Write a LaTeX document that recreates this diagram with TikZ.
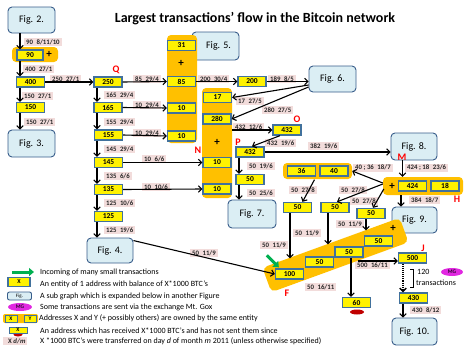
\documentclass[tikz,border=0pt]{standalone}
\usepackage{fontspec}
\setmainfont{Carlito}
\usetikzlibrary{arrows.meta,calc,shapes.geometric}
\definecolor{boxblue}{RGB}{65,113,156}
\definecolor{figblue}{RGB}{56,93,138}
\definecolor{figfill}{RGB}{219,238,244}
\definecolor{grporange}{RGB}{255,192,0}
\definecolor{labpink}{RGB}{242,220,219}
\definecolor{mgcol}{RGB}{225,40,225}
\definecolor{arrgreen}{RGB}{0,176,80}
\definecolor{darkred}{RGB}{192,0,0}
\newcommand{\edgetxt}[2]{#1\hspace{3.5pt}#2\hspace{5pt}}
\begin{document}
\begin{tikzpicture}[x=1pt,y=-1pt,
  ybox/.style={draw=boxblue, line width=1.3pt, fill=yellow, minimum width=28pt, minimum height=10pt, inner sep=0pt, font=\fontsize{7.5}{8}\selectfont\bfseries},
  figbox/.style={draw=figblue, line width=0.9pt, fill=figfill, rounded corners=4pt, inner sep=0pt, font=\fontsize{10}{11}\selectfont},
  grp/.style={fill=grporange, rounded corners=4pt, inner sep=0pt},
  elab/.style={fill=labpink, inner xsep=2pt, inner ysep=1pt, anchor=west, font=\fontsize{6.8}{7.5}\selectfont\bfseries, text=black!85},
  arr/.style={-{Straight Barb[length=3.2pt,width=6.5pt]}, line width=1.1pt},
  redl/.style={text=red, font=\fontsize{10}{10}\selectfont\bfseries, inner sep=0pt},
  plus/.style={font=\fontsize{11}{11}\selectfont\bfseries, inner sep=0pt},
  legtxt/.style={anchor=west, inner sep=0pt, font=\fontsize{8}{9}\selectfont},
  mgell/.style={ellipse, fill=mgcol, inner sep=0pt, font=\fontsize{5.5}{6}\selectfont\bfseries, text=black!80!mgcol},
]
\useasboundingbox (0,0) rectangle (464,346);

% title
\node[font=\fontsize{14}{16}\selectfont\bfseries] (title) at (255,19) {Largest transactions’ flow in the Bitcoin network};

% edge labels
\node[elab] (l1) at (24,42) {\edgetxt{90}{8/11/10}};
\node[elab] (l2) at (23,69) {\edgetxt{400}{27/1}};
\node[elab] (l3) at (22,96) {\edgetxt{150}{27/1}};
\node[elab] (l4) at (24,122) {\edgetxt{150}{27/1}};
\node[elab] (l5) at (50,79) {\edgetxt{250}{27/1}};
\node[elab] (l6) at (104,95) {\edgetxt{165}{29/4}};
\node[elab] (l7) at (104,122) {\edgetxt{155}{29/4}};
\node[elab] (l8) at (104,149) {\edgetxt{145}{29/4}};
\node[elab] (l9) at (104,176) {\edgetxt{135}{6/6}};
\node[elab] (l10) at (104,203) {\edgetxt{125}{10/6}};
\node[elab] (l11) at (104,230) {\edgetxt{125}{19/6}};
\node[elab] (l12) at (133,79) {\edgetxt{85}{29/4}};
\node[elab] (l13) at (133,105) {\edgetxt{10}{29/4}};
\node[elab] (l14) at (133,133) {\edgetxt{10}{29/4}};
\node[elab] (l15) at (142,159) {\edgetxt{10}{6/6}};
\node[elab] (l16) at (142,187) {\edgetxt{10}{10/6}};
\node[elab] (l17) at (198,79) {\edgetxt{200}{30/4}};
\node[elab] (l18) at (268,79) {\edgetxt{189}{8/5}};
\node[elab] (l19) at (236,101) {\edgetxt{17}{27/5}};
\node[elab] (l20) at (262,110) {\edgetxt{280}{27/5}};
\node[elab] (l21) at (233,127) {\edgetxt{432}{12/6}};
\node[elab] (l22) at (265,143) {\edgetxt{432}{19/6}};
\node[elab] (l23) at (308,146) {\edgetxt{382}{19/6}};
\node[elab] (l24) at (247,166) {\edgetxt{50}{19/6}};
\node[elab] (l25) at (247,193) {\edgetxt{50}{25/6}};
\node[elab] (l26) at (405,168) {\edgetxt{424 ; 18}{23/6}};
\node[elab] (l27) at (353,168) {\edgetxt{40 ; 36}{18/7}};
\node[elab] (l28) at (409,200) {\edgetxt{384}{18/7}};
\node[elab] (l29) at (289,190) {\edgetxt{50}{27/8}};
\node[elab] (l30) at (339,190) {\edgetxt{50}{27/8}};
\node[elab] (l31) at (350,201) {\edgetxt{50}{27/8}};
\node[elab] (l32) at (190,253) {\edgetxt{50}{11/9}};
\node[elab] (l33) at (260,245) {\edgetxt{50}{11/9}};
\node[elab] (l34) at (293,233) {\edgetxt{50}{11/9}};
\node[elab] (l35) at (336,224) {\edgetxt{50}{11/9}};
\node[elab] (l36) at (305,287) {\edgetxt{50}{16/11}};
\node[elab] (l37) at (355,265) {\edgetxt{500}{16/11}};
\node[elab] (l38) at (410,310) {\edgetxt{430}{8/12}};

% figure boxes (some behind groups)
\node[figbox, minimum width=47pt, minimum height=26pt] (fig2) at (31.5,20) {Fig. 2.};
\node[figbox, minimum width=47pt, minimum height=27pt] (fig3) at (31.5,143.5) {Fig. 3.};
\node[figbox, minimum width=46pt, minimum height=25pt] (fig4) at (110,250.5) {Fig. 4.};
\node[figbox, minimum width=47pt, minimum height=28pt] (fig5) at (215.5,46) {\hspace{6pt}Fig. 5.};
\node[figbox, minimum width=47pt, minimum height=26pt] (fig6) at (332.5,79) {Fig. 6.};
\node[figbox, minimum width=48pt, minimum height=28pt] (fig7) at (252,214) {Fig. 7.};
\node[figbox, minimum width=46pt, minimum height=27pt] (fig8) at (414,146.5) {Fig. 8.};
\node[figbox, minimum width=45pt, minimum height=26pt] (fig9) at (414.5,220) {Fig. 9.};
\node[figbox, minimum width=45pt, minimum height=27pt] (fig10) at (414.5,331.5) {Fig. 10.};

% orange groups
\node[grp, minimum width=46pt, minimum height=15pt] (g90) at (35,54.5) {};
\node[grp, minimum width=30pt, minimum height=108pt] (gcol1) at (182,89) {};
\node[grp, minimum width=30pt, minimum height=110pt] (gcol2) at (217,143) {};
\node[grp, minimum width=69pt, minimum height=16pt] (g3640) at (317.5,171) {};
\node[grp, minimum width=80pt, minimum height=18pt] (gH) at (423,186) {};
\node[grp, rotate=20, minimum width=146pt, minimum height=26pt, rounded corners=5pt] (bar) at (335.5,255) {};

% plus signs
\node[plus] (p1) at (49,54) {+};
\node[plus] (p2) at (181,63) {+};
\node[plus] (p3) at (217,142) {+};
\node[plus] (p4) at (392,186) {+};
\node[plus] (p5) at (393,228) {+};

% yellow boxes
\node[ybox, minimum width=26pt] (b90) at (30,55) {90};
\node[ybox] (b400) at (30.5,82) {400};
\node[ybox] (b150) at (30.5,107.5) {150};
\node[ybox] (b250) at (108,82) {250};
\node[ybox] (b165) at (108,107.5) {165};
\node[ybox] (b155) at (108.5,135) {155};
\node[ybox] (b145) at (108.5,162.5) {145};
\node[ybox] (b135) at (108.5,189.5) {135};
\node[ybox] (b125) at (108.5,216.5) {125};
\node[ybox] (b31) at (181.5,45.5) {31};
\node[ybox] (b85) at (181.5,81.5) {85};
\node[ybox] (b10a) at (181.5,108) {10};
\node[ybox] (b10b) at (181.5,136) {10};
\node[ybox] (b200) at (252,81.5) {200};
\node[ybox] (b17) at (217.5,97.5) {17};
\node[ybox] (b280) at (217,119) {280};
\node[ybox] (b10c) at (217,162.5) {10};
\node[ybox] (b10d) at (217,189) {10};
\node[ybox] (O432) at (287,130) {432};
\node[ybox] (P432) at (250,152) {432};
\node[ybox] (b50p) at (250,179.5) {50};
\node[ybox] (b36) at (301.5,171) {36};
\node[ybox] (b40) at (334,171) {40};
\node[ybox] (b424) at (412.5,186) {424};
\node[ybox] (b18) at (445,186) {18};
\node[ybox] (b50a) at (297.5,207.5) {50};
\node[ybox] (b50b) at (335,207.5) {50};
\node[ybox] (b50c) at (371,213.5) {50};
\node[ybox] (b100) at (289.5,274) {100};
\node[ybox] (b50d) at (319.5,262) {50};
\node[ybox] (b50e) at (349,252) {50};
\node[ybox] (b50f) at (378.5,241) {50};
\node[ybox] (b500) at (412.5,258) {500};
\node[ybox] (b60) at (356.5,302.5) {60};
\node[ybox] (b430) at (413.5,298) {430};
\node[ellipse, fill=darkred, minimum width=14pt, minimum height=5pt, inner sep=0pt] (r60) at (357,312) {};

% red letters
\node[redl] (lQ) at (116,70) {Q};
\node[redl] (lO) at (297,119) {O};
\node[redl] (lP) at (238,142) {P};
\node[redl] (lN) at (198,150) {N};
\node[redl] (lM) at (402,157) {M};
\node[redl] (lH) at (457,199) {H};
\node[redl] (lJ) at (423,248) {J};
\node[redl] (lF) at (287,293) {F};

% connectors
\draw[arr] ([xshift=-11.5pt]fig2.south) -- ([xshift=-10pt]b90.north);
\draw[arr] ([xshift=-10pt]b90.south) -- ([xshift=-10.5pt]b400.north);
\draw[arr] ([xshift=-10.5pt]b400.south) -- ([xshift=-10.5pt]b150.north);
\draw[arr] ([xshift=-10.5pt]b150.south) -- ([xshift=-11.5pt]fig3.north);
\draw[arr] (b400.east) -- (b250.west);
\draw[arr] ([xshift=-11pt]b250.south) -- ([xshift=-11pt]b165.north);
\draw[arr] ([xshift=-11pt]b165.south) -- ([xshift=-11.5pt]b155.north);
\draw[arr] ([xshift=-11.5pt]b155.south) -- ([xshift=-11.5pt]b145.north);
\draw[arr] ([xshift=-11.5pt]b145.south) -- ([xshift=-11.5pt]b135.north);
\draw[arr] ([xshift=-11.5pt]b135.south) -- ([xshift=-11.5pt]b125.north);
\draw[arr] ([xshift=-11.5pt]b125.south) -- ([xshift=-13pt]fig4.north);
\draw[arr] (b250.east) -- (b85.west);
\draw[arr] (b165.east) -- (b10a.west);
\draw[arr] (b155.east) -- (b10b.west);
\draw[arr] (b145.east) -- (b10c.west);
\draw[arr] (b135.east) -- (b10d.west);
\draw[arr] (b85.east) -- (b200.west);
\draw[arr] (b200.east) -- (b200.east -| fig6.west);
\draw[arr] ($(fig6.west)+(0,6)$) -- (b17.east);
\draw[arr] ($(fig6.west)+(0,8)$) -- (b280.east);
\draw[arr] (gcol2.east |- O432.west) -- (O432.west);
\draw[arr] ($(O432.south)+(-7,0)$) -- ($(P432.north)+(2,0)$);
\draw[arr] (P432.east) -- (P432.east -| fig8.west);
\draw[arr] ([xshift=-11pt]P432.south) -- ([xshift=-11pt]b50p.north);
\draw[arr] ([xshift=-11pt]b50p.south) -- ([xshift=-13pt]fig7.north);
\coordinate (m1) at ([xshift=-11.5pt]fig8.south);
\draw[arr] (m1) -- (m1 |- gH.north);
\coordinate (m2) at ([xshift=-13.5pt]fig9.north);
\draw[arr] (m2 |- gH.south) -- (m2);
\draw[arr] ($(gH.west)+(0,-3)$) -- (g3640.east);
\draw[arr] ($(gH.west)+(0,-2)$) -- ($(b50b.north)+(2,0)$);
\draw[arr] ($(gH.west)+(1,3)$) -- ($(b50c.north)+(2,0)$);
\draw[arr] ($(b36.south)+(13,3)$) -- ($(b50a.north)+(5,0)$);
\draw[arr] ($(fig4.north east)+(0,3)$) -- (b100.west);
\draw[arr] ($(b50a.south)+(-7.5,0)$) -- ($(b100.north)+(0.5,-10)$);
\draw[arr] ($(b50b.south)+(-7,0)$) -- ($(b50d.north)+(8.5,-12)$);
\draw[arr] ($(b50c.south)+(-5,0)$) -- ($(b50f.north)+(-12.5,-5)$);
\draw[arr] ($(b50e.south)+(2,0)$) -- ($(b60.north)+(-5.5,0)$);
\draw[arr] ($(b50e.east)+(-6,9)$) -- ($(b500.west)+(0,3)$);
\draw[arr, densely dotted, line width=1.5pt] ($(b500.south)+(-9.5,0)$) -- ($(b430.north)+(-10.5,0)$);
\draw[arr] ($(b430.south)+(-10.5,0)$) -- ($(fig10.north)+(-11.5,0)$);
\draw[arrgreen, line width=3pt, -{Triangle[length=5pt,width=8pt]}] ($(b100.north west)+(-8,-13)$) -- ($(b100.north west)+(4,-1)$);

% 120 transactions via MG
\draw[line width=0.8pt] (410,269) -- (413,269) -- (413,287) -- (410,287);
\node[legtxt] (t120) at (417,272) {120};
\node[legtxt] (ttr) at (416,283) {transactions};
\node[mgell, minimum width=22pt, minimum height=8pt] (mg1) at (452,272) {MG};

% legend
\coordinate (ga1) at (12,272);
\coordinate (ga2) at (34,272);
\draw[arrgreen, line width=3pt, -{Triangle[length=5pt,width=8pt]}] (ga1) -- (ga2);
\node[legtxt] (lg1) at (40,272) {Incoming of many small transactions};
\node[ybox, minimum width=22pt, minimum height=9pt, font=\fontsize{6}{6}\selectfont\bfseries] (lgx) at (19,282) {X};
\node[legtxt] (lg2) at (40,284) {An entity of 1 address with balance of X*1000 BTC’s};
\node[figbox, minimum width=24pt, minimum height=8pt, rounded corners=2pt, font=\fontsize{5}{5}\selectfont] (lgfig) at (19.5,296) {Fig.};
\node[legtxt] (lg3) at (40,296) {A sub graph which is expanded below in another Figure};
\node[mgell, minimum width=24pt, minimum height=8pt] (lgmg) at (20,307) {MG};
\node[legtxt] (lg4) at (40,307) {Some transactions are sent via the exchange Mt. Gox};
\node[grp, minimum width=35pt, minimum height=9pt, rounded corners=2pt] (lggrp) at (20.5,318.5) {};
\node[ybox, minimum width=12pt, minimum height=7pt, line width=0.9pt, font=\fontsize{5.5}{6}\selectfont\bfseries] (lgxx) at (11,318.5) {X};
\node[ybox, minimum width=12pt, minimum height=7pt, line width=0.9pt, font=\fontsize{5.5}{6}\selectfont\bfseries] (lgyy) at (30,318.5) {Y};
\node[legtxt] (lg5) at (39,318) {Addresses X and Y (+ possibly others) are owned by the same entity};
\node[ellipse, fill=darkred, minimum width=9pt, minimum height=4pt, inner sep=0pt] (lgred) at (18,334.5) {};
\node[ybox, minimum width=18pt, minimum height=6pt, line width=0.9pt, font=\fontsize{5.5}{6}\selectfont\bfseries] (lgxr) at (18,330) {X};
\node[legtxt] (lg6) at (40,331) {An address which has received X*1000 BTC’s and has not sent them since};
\node[elab] (lgdm) at (3,341) {\hspace{3pt}X \textit{d/m}\hspace{5pt}};
\node[legtxt] (lg7) at (40,341) {X *1000 BTC’s were transferred on day \textit{d} of month \textit{m} 2011 (unless otherwise specified)};
\end{tikzpicture}
\end{document}
